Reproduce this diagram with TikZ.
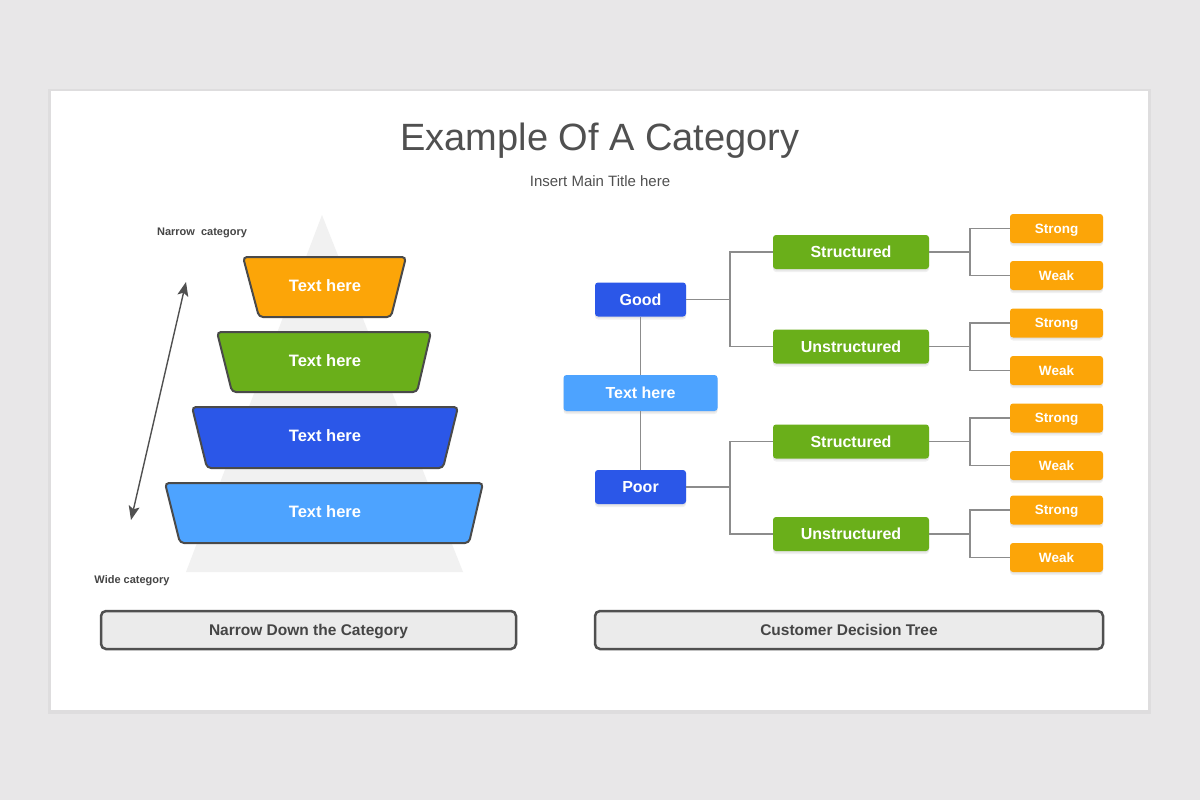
\documentclass[tikz,border=0pt]{standalone}
\usepackage{fontspec}
\setmainfont{Liberation Sans}
\usetikzlibrary{arrows.meta}
\definecolor{bgc}{HTML}{E8E7E8}
\definecolor{txtc}{HTML}{505050}
\definecolor{darkc}{HTML}{454545}
\definecolor{orangec}{HTML}{FCA508}
\definecolor{greenc}{HTML}{6AAF1A}
\definecolor{dbluec}{HTML}{2B57E8}
\definecolor{lbluec}{HTML}{4DA3FF}
\definecolor{pyrc}{HTML}{F1F1F1}
\definecolor{linec}{HTML}{8C8C8C}
\definecolor{edgec}{HTML}{4A4A4A}
\definecolor{barc}{HTML}{EBEBEB}
\tikzset{
  treebox/.style={rounded corners=3pt, text=white, inner sep=0pt,
    font=\fontsize{16}{18}\selectfont\bfseries, text depth=0pt,
    preaction={fill=black, fill opacity=0.06, transform canvas={yshift=-3pt}},
    preaction={fill=black, fill opacity=0.05, transform canvas={yshift=-1.5pt}}},
  bluebox/.style={treebox, fill=dbluec, minimum width=91pt, minimum height=34pt},
  rootbox/.style={treebox, fill=lbluec, minimum width=154pt, minimum height=36pt},
  greenbox/.style={treebox, fill=greenc, minimum width=156pt, minimum height=34pt},
  orangebox/.style={treebox, fill=orangec, minimum width=93pt, minimum height=29pt,
    font=\fontsize{13.5}{16}\selectfont\bfseries},
  conn/.style={draw=linec, line width=1.2pt},
  trap/.style={draw=edgec, line width=2pt, rounded corners=4pt},
  traptext/.style={text=white, font=\fontsize{16.5}{18}\selectfont\bfseries},
  barbox/.style={draw=txtc, line width=2.5pt, fill=barc, rounded corners=5pt, text depth=0pt,
    minimum height=38pt, text=darkc, font=\fontsize{15.5}{18}\selectfont\bfseries},
  smalllabel/.style={text=darkc, font=\fontsize{11}{13}\selectfont\bfseries}
}
\begin{document}
\begin{tikzpicture}[x=1pt,y=-1pt]
\useasboundingbox (0,0) rectangle (1200,800);
\fill[bgc] (0,0) rectangle (1200,800);
% card
\fill[black, opacity=0.04] (48,89) rectangle (1151,714);
\fill[white] (51,91) rectangle (1148,710);
% titles
\node[text=txtc, font=\fontsize{38}{44}\selectfont] (title) at (600,141) {Example Of A Category};
\node[text=txtc, font=\fontsize{15}{18}\selectfont] (subtitle) at (600,181) {Insert Main Title here};
% background pyramid
\fill[pyrc] (322,215) -- (463,572) -- (186,572) -- cycle;
% trapezoids
\filldraw[trap, fill=orangec] (243,257) -- (406,257) -- (391,317) -- (259,317) -- cycle;
\node[traptext] (t1) at (325,286) {Text here};
\filldraw[trap, fill=greenc] (217,332) -- (431,332) -- (417,392) -- (232,392) -- cycle;
\node[traptext] (t2) at (325,361) {Text here};
\filldraw[trap, fill=dbluec] (192,407) -- (458,407) -- (443,468) -- (207,468) -- cycle;
\node[traptext] (t3) at (325,436) {Text here};
\filldraw[trap, fill=lbluec] (165,483) -- (483,483) -- (469,543) -- (180,543) -- cycle;
\node[traptext] (t4) at (325,512) {Text here};
% arrow
\coordinate (atop) at (186,282);
\coordinate (abot) at (131,520);
\draw[draw=txtc, line width=1.4pt, arrows={Stealth[length=14pt,width=11pt,inset=3pt]-Stealth[length=14pt,width=11pt,inset=3pt]}] (abot) -- (atop);
\node[smalllabel] (narrow) at (202,233) {Narrow\ \ category};
\node[smalllabel] (wide) at (132,581) {Wide category};
% bottom bars
\node[barbox, minimum width=415pt] (bar1) at (308.5,630) {Narrow Down the Category};
\node[barbox, minimum width=508pt] (bar2) at (849,630) {Customer Decision Tree};
% tree nodes
\node[bluebox] (good) at (640.5,299.5) {Good};
\node[rootbox] (root) at (640.5,393) {Text here};
\node[bluebox] (poor) at (640.5,487) {Poor};
\node[greenbox] (s1) at (851,252) {Structured};
\node[greenbox] (u1) at (851,346.5) {Unstructured};
\node[greenbox] (s2) at (851,441.5) {Structured};
\node[greenbox] (u2) at (851,534) {Unstructured};
\node[orangebox] (o1) at (1056.5,228.5) {Strong};
\node[orangebox] (o2) at (1056.5,275.5) {Weak};
\node[orangebox] (o3) at (1056.5,323) {Strong};
\node[orangebox] (o4) at (1056.5,370.5) {Weak};
\node[orangebox] (o5) at (1056.5,418) {Strong};
\node[orangebox] (o6) at (1056.5,465.5) {Weak};
\node[orangebox] (o7) at (1056.5,510) {Strong};
\node[orangebox] (o8) at (1056.5,557.5) {Weak};
% connectors
\draw[conn] (good.south) -- (root.north);
\draw[conn] (root.south) -- (poor.north);
\coordinate (jg) at (730,299.5);
\coordinate (jp) at (730,487);
\draw[conn] (good.east) -- (jg);
\draw[conn] (s1.west) -| (jg);
\draw[conn] (u1.west) -| (jg);
\draw[conn] (poor.east) -- (jp);
\draw[conn] (s2.west) -| (jp);
\draw[conn] (u2.west) -| (jp);
\coordinate (j1) at (970,252);
\coordinate (j2) at (970,346.5);
\coordinate (j3) at (970,441.5);
\coordinate (j4) at (970,534);
\draw[conn] (s1.east) -- (j1);
\draw[conn] (o1.west) -| (j1);
\draw[conn] (o2.west) -| (j1);
\draw[conn] (u1.east) -- (j2);
\draw[conn] (o3.west) -| (j2);
\draw[conn] (o4.west) -| (j2);
\draw[conn] (s2.east) -- (j3);
\draw[conn] (o5.west) -| (j3);
\draw[conn] (o6.west) -| (j3);
\draw[conn] (u2.east) -- (j4);
\draw[conn] (o7.west) -| (j4);
\draw[conn] (o8.west) -| (j4);
\end{tikzpicture}
\end{document}
